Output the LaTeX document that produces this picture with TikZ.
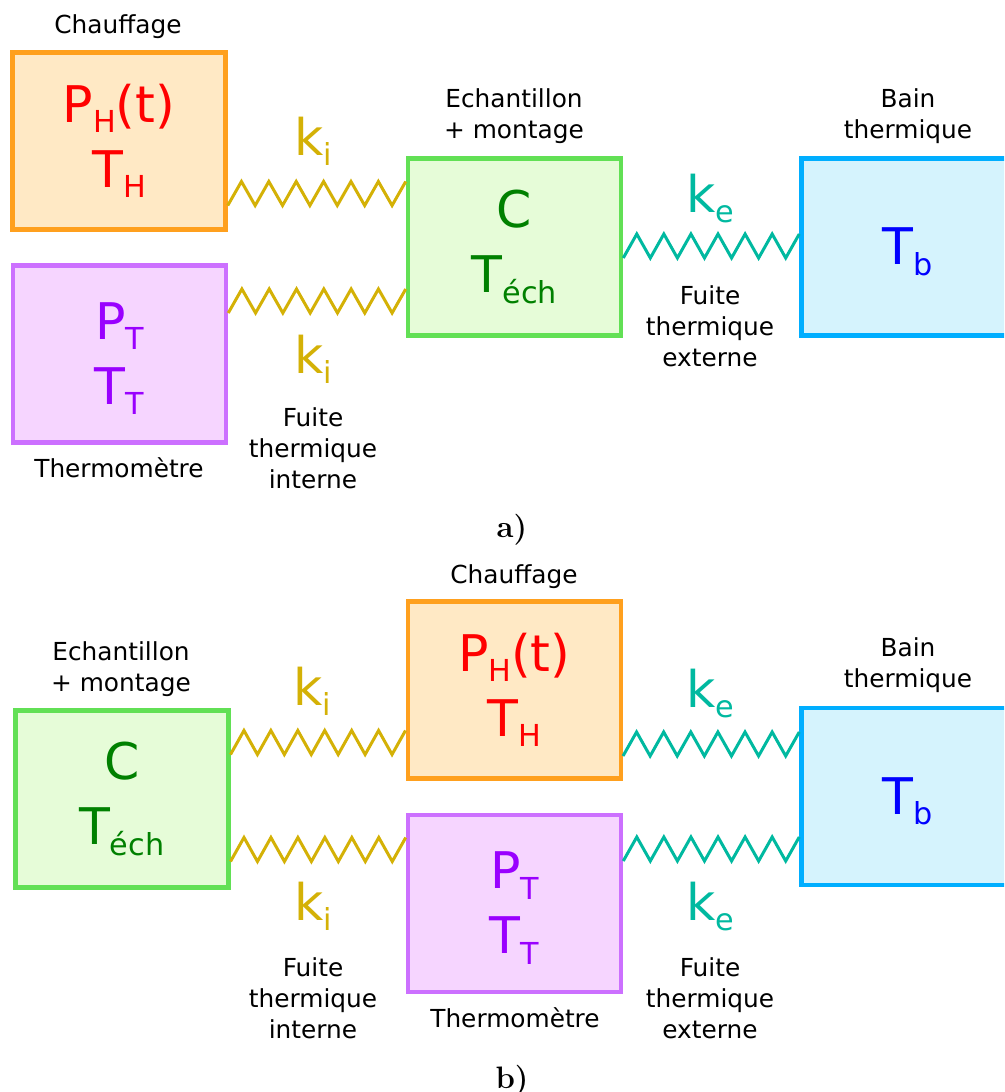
\documentclass[tikz,border=0pt]{standalone}
\usepackage{fontspec}
\newfontfamily\djv{DejaVu Sans}
\usetikzlibrary{calc}
\definecolor{orgB}{HTML}{FFA01E}
\definecolor{orgF}{HTML}{FFE9C5}
\definecolor{violB}{HTML}{CC70FF}
\definecolor{violF}{HTML}{F6D5FF}
\definecolor{violT}{HTML}{9900FF}
\definecolor{grnB}{HTML}{62E055}
\definecolor{grnF}{HTML}{E6FCD8}
\definecolor{grnT}{HTML}{008000}
\definecolor{bluB}{HTML}{00AEFF}
\definecolor{bluF}{HTML}{D5F3FD}
\definecolor{bluT}{HTML}{0000FF}
\definecolor{kiC}{HTML}{D4B106}
\definecolor{keC}{HTML}{00B9A0}
\newcommand\sbx[1]{\raisebox{-7.9pt}{\fontsize{22.7pt}{22.7pt}\selectfont #1}}
\newcommand\upstrut{\rule{0pt}{34.5pt}}
\newcommand\zz[3]{\draw[#1] ($(#2)+(0,12)$) \foreach \k in {1,...,13}{ -- ($(#2)!{\k/13}!(#3)+(0,{12*(1-2*mod(\k,2))})$) };}
\begin{document}
\begin{tikzpicture}[x=0.75pt,y=-0.75pt,
 boxbase/.style={draw, line width=3.375pt, minimum width=159.75pt, minimum height=132.75pt, inner sep=0pt, align=center, font=\djv\fontsize{37.9pt}{48.75pt}\selectfont},
 hbox/.style={boxbase, draw=orgB, fill=orgF, text=red},
 tbox/.style={boxbase, draw=violB, fill=violF, text=violT},
 ebox/.style={boxbase, draw=grnB, fill=grnF, text=grnT},
 bbox/.style={boxbase, draw=bluB, fill=bluF, text=bluT},
 captxt/.style={font=\djv\fontsize{18.6pt}{23.25pt}\selectfont, align=center, anchor=base, inner sep=0pt},
 klab/.style={font=\djv\fontsize{37.9pt}{45pt}\selectfont, anchor=base, inner sep=0pt},
 kitxt/.style={klab, text=kiC},
 ketxt/.style={klab, text=keC},
 sprI/.style={draw=kiC, line width=2.25pt},
 sprE/.style={draw=keC, line width=2.25pt},
 tagtxt/.style={font=\bfseries\fontsize{23.25pt}{23.25pt}\selectfont, anchor=base, inner sep=0pt}
]
\useasboundingbox (0,0) rectangle (1004,1092);
\clip (0,0) rectangle (1004,1092);
\fill[white] (0,0) rectangle (1004,1092);

% ---------- a) ----------
\node[hbox] (H1) at (119,141) {P\sbx{H}(t)\\T\sbx{H}};
\node[tbox] (T1) at (119.5,354) {\upstrut P\sbx{T}\\T\sbx{T}};
\node[ebox] (E1) at (514.5,246.75) {C\\T\sbx{éch}};
\node[bbox] (B1) at (908,247) {\upstrut T\sbx{b}};

\coordinate (a1s) at (H1.east |- 0,193.5);
\coordinate (a1e) at (E1.west |- 0,193.5);
\coordinate (a2s) at (T1.east |- 0,301);
\coordinate (a2e) at (E1.west |- 0,301);
\coordinate (a3s) at (E1.east |- 0,246);
\coordinate (a3e) at (B1.west |- 0,246);
\zz{sprI}{a1s}{a1e}
\zz{sprI}{a2s}{a2e}
\zz{sprE}{a3s}{a3e}

\node[captxt] (cH1) at (118,33) {Chauffage};
\node[captxt] (cT1) at (119,477) {Thermomètre};
\node[captxt] (cE1) at (514,138) {Echantillon\\+ montage};
\node[captxt] (cB1) at (908,138) {Bain\\thermique};
\node[kitxt] (k1) at (313,155) {k\sbx{i}};
\node[kitxt] (k2) at (313,373) {k\sbx{i}};
\node[captxt] (fi1) at (313,488) {Fuite\\thermique\\interne};
\node[ketxt] (k3) at (710,212) {k\sbx{e}};
\node[captxt] (fe1) at (710,366) {Fuite\\thermique\\externe};
\node[tagtxt] (ta) at (512,537) {a)};

% ---------- b) ----------
\node[ebox] (E2) at (121.75,799) {C\\T\sbx{éch}};
\node[hbox] (H2) at (514.25,690) {P\sbx{H}(t)\\T\sbx{H}};
\node[tbox] (T2) at (514.5,903.5) {\upstrut P\sbx{T}\\T\sbx{T}};
\node[bbox] (B2) at (908,796.5) {\upstrut T\sbx{b}};

\coordinate (b1s) at (E2.east |- 0,742.5);
\coordinate (b1e) at (H2.west |- 0,742.5);
\coordinate (b2s) at (E2.east |- 0,849.5);
\coordinate (b2e) at (T2.west |- 0,849.5);
\coordinate (b3s) at (H2.east |- 0,744);
\coordinate (b3e) at (B2.west |- 0,744);
\coordinate (b4s) at (T2.east |- 0,849);
\coordinate (b4e) at (B2.west |- 0,849);
\zz{sprI}{b1s}{b1e}
\zz{sprI}{b2s}{b2e}
\zz{sprE}{b3s}{b3e}
\zz{sprE}{b4s}{b4e}

\node[captxt] (cE2) at (121,691) {Echantillon\\+ montage};
\node[captxt] (cH2) at (514,583) {Chauffage};
\node[captxt] (cB2) at (908,687) {Bain\\thermique};
\node[captxt] (cT2) at (515,1027) {Thermomètre};
\node[kitxt] (k4) at (312,705) {k\sbx{i}};
\node[ketxt] (k5) at (710,707) {k\sbx{e}};
\node[kitxt] (k6) at (313,920) {k\sbx{i}};
\node[ketxt] (k7) at (710,920) {k\sbx{e}};
\node[captxt] (fi2) at (313,1038) {Fuite\\thermique\\interne};
\node[captxt] (fe2) at (710,1038) {Fuite\\thermique\\externe};
\node[tagtxt] (tb) at (512,1088) {b)};
\end{tikzpicture}
\end{document}
